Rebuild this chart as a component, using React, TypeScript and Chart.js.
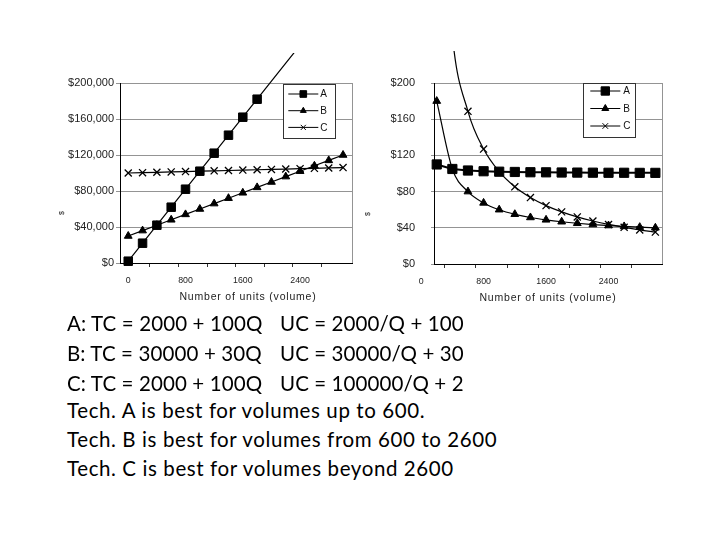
import React, { useEffect, useRef } from 'react';
import { Chart, registerables } from 'chart.js';
import { drawPoint } from 'chart.js/helpers';

Chart.register(...registerables);

// ---------- data ----------
const seriesNames = ['A', 'B', 'C'];

// Total cost chart (left)
const unitsTotal = [0, 200, 400, 600, 800, 1000, 1200, 1400, 1600, 1800, 2000, 2200, 2400, 2600, 2800, 3000];
const unitsTotalA = [0, 200, 400, 600, 800, 1000, 1200, 1400, 1600, 1800, 2000, 2200, 2400];
const totalA = [2000, 22000, 42000, 62000, 82000, 102000, 122000, 142000, 162000, 182000, 202000, 222000, 242000];
const totalB = [30000, 36000, 42000, 48000, 54000, 60000, 66000, 72000, 78000, 84000, 90000, 96000, 102000, 108000, 114000, 120000];
const totalC = [100000, 100400, 100800, 101200, 101600, 102000, 102400, 102800, 103200, 103600, 104000, 104400, 104800, 105200, 105600, 106000];
const yTicksTotal = [0, 40000, 80000, 120000, 160000, 200000];

// Unit cost chart (right)
const unitsUnit = [200, 400, 600, 800, 1000, 1200, 1400, 1600, 1800, 2000, 2200, 2400, 2600, 2800, 3000];
const unitA = [110, 105, 103.3, 102.5, 102, 101.7, 101.4, 101.3, 101.1, 101, 100.9, 100.8, 100.8, 100.7, 100.7];
const unitB = [180, 105, 80, 67.5, 60, 55, 51.4, 48.8, 46.7, 45, 43.6, 42.5, 41.5, 40.7, 40];
const unitC = [502, 252, 168.7, 127, 102, 85.3, 73.4, 64.5, 57.6, 52, 47.5, 43.7, 40.5, 37.7, 35.3];
const yTicksUnit = [0, 40, 80, 120, 160, 200];

const xTickLabels = [0, 800, 1600, 2400];
const xTickMarks = [300, 700, 1100, 1500, 1900, 2300, 2700];
const xAxisTitle = 'Number of units (volume)';
const yAxisTitle = '$';

const linesTC = ['A: TC = 2000 + 100Q', 'B: TC = 30000 + 30Q', 'C: TC = 2000 + 100Q'];
const linesUC = ['UC = 2000/Q + 100', 'UC = 30000/Q + 30', 'UC = 100000/Q + 2'];
const linesTech = [
  'Tech. A is best for volumes up to 600.',
  'Tech. B is best for volumes from 600 to 2600',
  'Tech. C is best for volumes beyond 2600',
];

// ---------- plugins ----------
const FONT = "'Liberation Sans', Arial, sans-serif";
const X_TICK_FONT = 8.8;

const framePlugin = {
  id: 'frameLegendTitles',
  afterDatasetsDraw(chart: any, _args: any, opts: any) {
    const { ctx, chartArea } = chart;
    ctx.save();
    // right frame line
    ctx.strokeStyle = opts.frameColor;
    ctx.lineWidth = 1;
    ctx.beginPath();
    const xr = Math.round(chartArea.right) + 0.5;
    ctx.moveTo(xr, chartArea.top);
    ctx.lineTo(xr, chartArea.bottom);
    ctx.stroke();

    // legend box
    const L = opts.legend;
    ctx.fillStyle = '#fff';
    ctx.fillRect(L.x, L.y, L.w, L.h);
    ctx.strokeStyle = L.border;
    ctx.lineWidth = 1;
    ctx.strokeRect(Math.round(L.x) + 0.5, Math.round(L.y) + 0.5, L.w, L.h);
    chart.data.datasets.forEach((ds: any, i: number) => {
      const y = L.y + L.rowTop + i * L.rowGap;
      ctx.strokeStyle = '#000';
      ctx.lineWidth = 1;
      ctx.beginPath();
      ctx.moveTo(L.x + L.lineX0, y);
      ctx.lineTo(L.x + L.lineX1, y);
      ctx.stroke();
      ctx.fillStyle = '#000';
      ctx.strokeStyle = '#000';
      drawPoint(ctx, {
        pointStyle: ds.pointStyle,
        radius: L.markerRadius[i],
        borderWidth: 1,
        rotation: 0,
      } as any, L.x + L.markerX, y);
      ctx.fillStyle = '#111';
      ctx.font = `10px ${FONT}`;
      ctx.textBaseline = 'middle';
      ctx.textAlign = 'left';
      ctx.fillText(ds.label, L.x + L.textX, y + 0.5);
    });
    ctx.restore();
  },
  afterDraw(chart: any, _args: any, opts: any) {
    const { ctx } = chart;
    ctx.save();
    // x tick labels that fall left of the axis range (drawn through the x scale)
    const xs = chart.scales.x;
    const items = xs.getLabelItems();
    const ref = items.find((it: any) => it.label !== '');
    if (ref) {
      xTickLabels
        .filter((v) => v < xs.min)
        .forEach((v) => {
          ctx.fillStyle = '#222';
          ctx.font = `${X_TICK_FONT}px ${FONT}`;
          ctx.textAlign = 'center';
          ctx.textBaseline = ref.options.textBaseline || 'top';
          ctx.fillText(String(v), xs.getPixelForValue(v), ref.options.translation[1] + (ref.textOffset || 0));
        });
    }
    // axis titles
    (opts.titles || []).forEach((t: any) => {
      ctx.save();
      ctx.translate(t.x, t.y);
      ctx.rotate(t.rotation || 0);
      ctx.fillStyle = '#222';
      ctx.font = `${t.size}px ${FONT}`;
      (ctx as any).letterSpacing = `${t.spacing || 0}px`;
      ctx.textAlign = 'center';
      ctx.textBaseline = 'middle';
      ctx.fillText(t.text, 0, 0);
      ctx.restore();
    });
    ctx.restore();
  },
};

function xScale(min: number, max: number, labelPad: number) {
  return {
    type: 'linear',
    min,
    max,
    afterFit(scale: any) {
      scale.height = 50;
    },
    afterBuildTicks(scale: any) {
      scale.ticks = [...xTickLabels, ...xTickMarks]
        .filter((v) => v >= min && v <= max)
        .sort((a, b) => a - b)
        .map((v) => ({ value: v }));
    },
    border: { color: '#000', width: 1 },
    grid: {
      drawOnChartArea: false,
      drawTicks: true,
      tickLength: 4,
      tickColor: (c: any) => (c.tick && xTickLabels.includes(c.tick.value) ? 'rgba(0,0,0,0)' : '#333'),
    },
    ticks: {
      autoSkip: false,
      maxRotation: 0,
      padding: labelPad,
      color: '#222',
      font: { family: FONT, size: X_TICK_FONT },
      callback: (v: any) => (xTickLabels.includes(Number(v)) ? String(v) : ''),
    },
    title: { display: false },
  };
}

function yScale(ticks: number[], width: number, tickLen: number, pad: number) {
  return {
    type: 'linear',
    min: ticks[0],
    max: ticks[ticks.length - 1],
    afterFit(scale: any) {
      scale.width = width;
    },
    afterBuildTicks(scale: any) {
      scale.ticks = ticks.map((v) => ({ value: v }));
    },
    border: { color: '#000', width: 1 },
    grid: {
      color: '#949494',
      lineWidth: 1,
      drawTicks: true,
      tickLength: tickLen,
      tickColor: '#949494',
    },
    ticks: {
      padding: pad,
      color: '#222',
      font: { family: FONT, size: 11 },
      callback: (v: any) => '$' + Number(v).toLocaleString('en-US'),
    },
    title: { display: false },
  };
}

function pts(xs: number[], ys: number[]) {
  return xs.map((x, i) => ({ x, y: ys[i] }));
}

function makeTotalConfig(): any {
  const maxY = yTicksTotal[yTicksTotal.length - 1];
  return {
    type: 'line',
    data: {
      datasets: [
        {
          label: seriesNames[0],
          data: pts(unitsTotalA, totalA),
          borderColor: '#000',
          backgroundColor: '#000',
          borderWidth: 1.2,
          pointStyle: 'rect',
          pointRadius: (c: any) => (c.raw && c.raw.y > maxY ? 0 : 6),
          pointBorderWidth: 1,
          clip: { left: 10, top: 30, right: 10, bottom: 10 },
        },
        {
          label: seriesNames[1],
          data: pts(unitsTotal, totalB),
          borderColor: '#000',
          backgroundColor: '#000',
          borderWidth: 1.2,
          pointStyle: 'triangle',
          pointRadius: 4.5,
          pointBorderWidth: 1,
          clip: 10,
        },
        {
          label: seriesNames[2],
          data: pts(unitsTotal, totalC),
          borderColor: '#000',
          backgroundColor: '#000',
          borderWidth: 1.2,
          pointStyle: 'crossRot',
          pointRadius: 5,
          pointBorderWidth: 1.3,
          clip: 10,
        },
      ],
    },
    options: {
      responsive: false,
      animation: false,
      layout: { padding: { left: 0, right: 8, top: 43, bottom: 7 } },
      plugins: {
        legend: { display: false },
        tooltip: { enabled: false },
        frameLegendTitles: {
          frameColor: '#949494',
          legend: {
            x: 243.3, y: 44, w: 52, h: 54, border: '#333',
            rowTop: 10, rowGap: 16.7, lineX0: 5, lineX1: 35, markerX: 20, textX: 37,
            markerRadius: [4.7, 3.4, 3.6],
          },
          titles: [
            { text: xAxisTitle, x: 208, y: 257, size: 10.5, spacing: 0.8, rotation: 0 },
            { text: yAxisTitle, x: 22, y: 173, size: 7, rotation: -Math.PI / 2 },
          ],
        },
      },
      scales: {
        x: xScale(-115, 3125, 8),
        y: yScale(yTicksTotal, 80, 4, 2),
      },
    },
    plugins: [framePlugin],
  };
}

function makeUnitConfig(): any {
  const maxY = yTicksUnit[yTicksUnit.length - 1];
  return {
    type: 'line',
    data: {
      datasets: [
        {
          label: seriesNames[0],
          data: pts(unitsUnit, unitA),
          borderColor: '#000',
          backgroundColor: '#000',
          borderWidth: 2,
          pointStyle: 'rect',
          pointRadius: 6.5,
          pointBorderWidth: 1,
          clip: 10,
        },
        {
          label: seriesNames[1],
          data: pts(unitsUnit, unitB),
          borderColor: '#000',
          backgroundColor: '#000',
          borderWidth: 1.2,
          pointStyle: 'triangle',
          pointRadius: 4.5,
          pointBorderWidth: 1,
          cubicInterpolationMode: 'monotone',
          capBezierPoints: false,
          clip: 10,
        },
        {
          label: seriesNames[2],
          data: pts(unitsUnit, unitC),
          borderColor: '#000',
          backgroundColor: '#000',
          borderWidth: 1.2,
          pointStyle: 'crossRot',
          pointRadius: (c: any) => (c.raw && c.raw.y > maxY ? 0 : 5),
          pointBorderWidth: 1.3,
          cubicInterpolationMode: 'monotone',
          capBezierPoints: false,
          clip: { left: 10, top: 32, right: 10, bottom: 10 },
        },
      ],
    },
    options: {
      responsive: false,
      animation: false,
      layout: { padding: { left: 0, right: 13, top: 43, bottom: 6 } },
      plugins: {
        legend: { display: false },
        tooltip: { enabled: false },
        frameLegendTitles: {
          frameColor: '#949494',
          legend: {
            x: 228.3, y: 43, w: 52, h: 54, border: '#333',
            rowTop: 8, rowGap: 17.5, lineX0: 7, lineX1: 37, markerX: 22, textX: 40,
            markerRadius: [5.9, 4, 4],
          },
          titles: [
            { text: xAxisTitle, x: 193, y: 258, size: 10.5, spacing: 0.8, rotation: 0 },
            { text: yAxisTitle, x: 13, y: 174, size: 7, rotation: -Math.PI / 2 },
          ],
        },
      },
      scales: {
        x: xScale(165, 3085, 8),
        y: yScale(yTicksUnit, 79, 3, 16),
      },
    },
    plugins: [framePlugin],
  };
}

function ChartCanvas(props: { config: () => any; left: number; top: number; width: number; height: number }) {
  const ref = useRef<HTMLCanvasElement | null>(null);
  useEffect(() => {
    if (!ref.current) return;
    const chart = new Chart(ref.current, props.config());
    return () => chart.destroy();
  }, []);
  return (
    <canvas
      ref={ref}
      width={props.width}
      height={props.height}
      style={{ position: 'absolute', left: props.left, top: props.top, width: props.width, height: props.height }}
    />
  );
}

const textStyle: React.CSSProperties = {
  position: 'absolute',
  fontFamily: "Lato, 'Open Sans', sans-serif",
  fontSize: 20.5,
  lineHeight: '24px',
  color: '#000',
  whiteSpace: 'pre',
};

const capCentersTop = [324, 354, 384];
const capCentersBottom = [411, 440, 469];

export default function App() {
  return (
    <div style={{ position: 'fixed', left: 0, top: 0, width: 720, height: 540, background: '#fff', overflow: 'hidden' }}>
      <ChartCanvas config={makeTotalConfig} left={40} top={40} width={320} height={280} />
      <ChartCanvas config={makeUnitConfig} left={355} top={40} width={320} height={280} />
      {linesTC.map((t, i) => (
        <div key={'tc' + i} style={{ ...textStyle, letterSpacing: 0.12, left: 67, top: capCentersTop[i] - 12.6 }}>{t}</div>
      ))}
      {linesUC.map((t, i) => (
        <div key={'uc' + i} style={{ ...textStyle, letterSpacing: 0.08, left: 280, top: capCentersTop[i] - 12.6 }}>{t}</div>
      ))}
      {linesTech.map((t, i) => (
        <div key={'te' + i} style={{ ...textStyle, letterSpacing: 0.6, left: 67, top: capCentersBottom[i] - 12.6 }}>{t}</div>
      ))}
    </div>
  );
}
